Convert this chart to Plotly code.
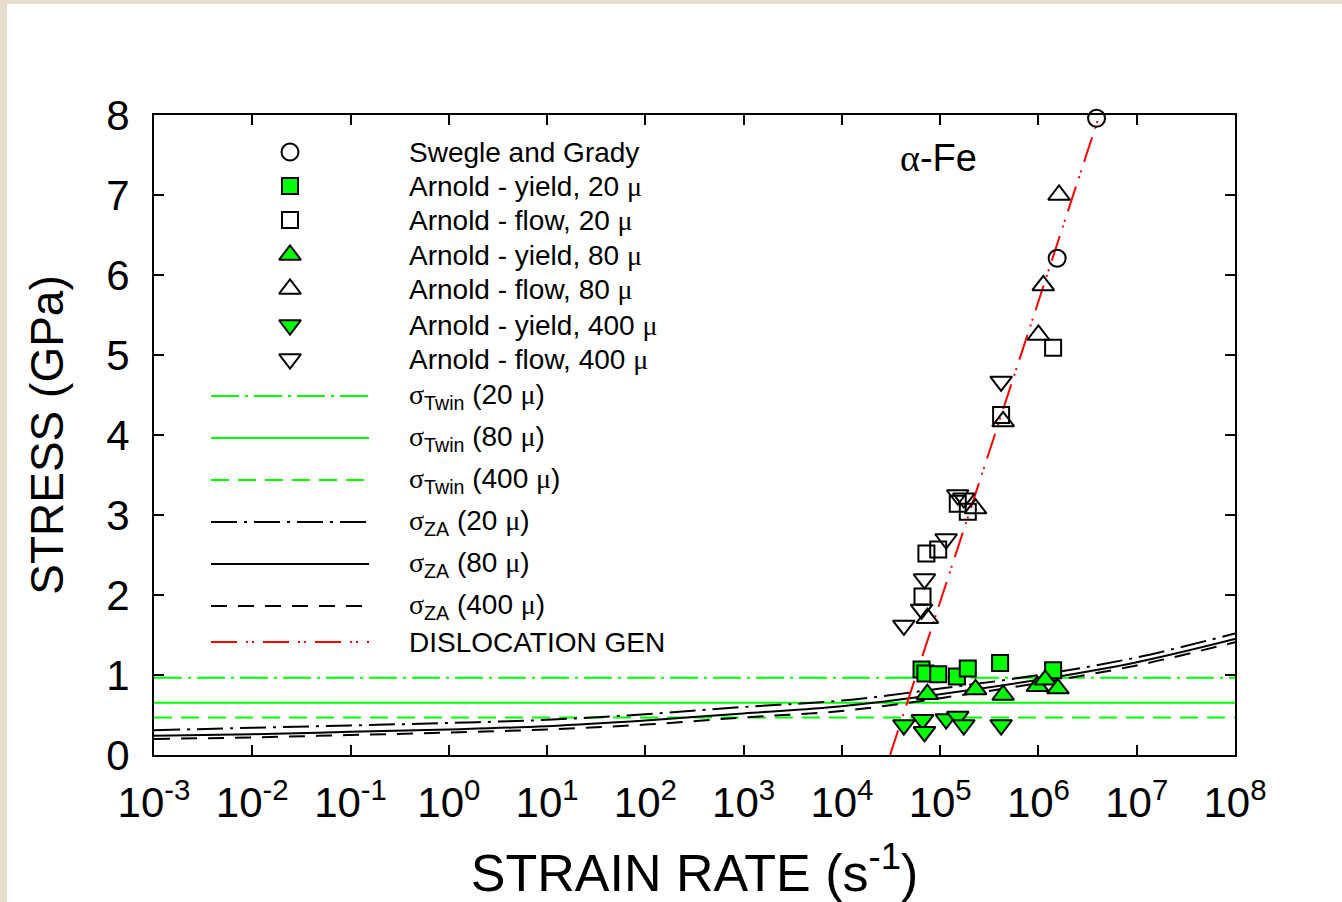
import plotly.graph_objects as go

# ---------------- data ----------------
swegle_rate = [1.55e6, 3.9e6]
swegle_stress = [6.21, 7.96]

yield20_rate = [6.46e4, 7.08e4, 9.55e4, 1.48e5, 1.91e5, 4.07e5, 1.41e6]
yield20_stress = [1.07, 1.02, 1.01, 0.98, 1.08, 1.15, 1.06]

flow20_rate = [6.61e4, 7.24e4, 9.55e4, 1.51e5, 1.91e5, 4.17e5, 1.41e6]
flow20_stress = [1.98, 2.52, 2.57, 3.14, 3.04, 4.25, 5.09]

yield80_rate = [7.41e4, 2.29e5, 4.37e5, 9.77e5, 1.17e6, 1.58e6]
yield80_stress = [0.76, 0.82, 0.75, 0.86, 0.94, 0.83]

flow80_rate = [7.41e4, 2.29e5, 4.37e5, 1.0e6, 1.12e6, 1.62e6]
flow80_stress = [1.71, 3.08, 4.17, 5.25, 5.87, 7.0]

yield400_rate = [4.27e4, 6.61e4, 6.92e4, 1.15e5, 1.51e5, 1.74e5, 4.17e5]
yield400_stress = [0.375, 0.44, 0.29, 0.45, 0.48, 0.375, 0.375]

flow400_rate = [4.27e4, 6.46e4, 6.92e4, 1.15e5, 1.51e5, 1.74e5, 4.17e5]
flow400_stress = [1.62, 1.82, 2.20, 2.70, 3.25, 3.21, 4.67]

twin_rate = [1e-3, 1e8]
twin20 = [0.966, 0.966]
twin80 = [0.654, 0.654]
twin400 = [0.47, 0.47]

za_rate = [1e-3, 1e-2, 1e-1, 1e0, 1e1, 1e2, 1e3, 1e4, 1e5, 1e6, 1e7, 1e8]
za20 = [0.31, 0.34, 0.37, 0.40, 0.44, 0.51, 0.60, 0.68, 0.83, 1.00, 1.22, 1.52]
za80 = [0.24, 0.26, 0.29, 0.32, 0.36, 0.43, 0.52, 0.61, 0.76, 0.94, 1.16, 1.45]
za400 = [0.20, 0.22, 0.25, 0.28, 0.32, 0.38, 0.47, 0.55, 0.71, 0.90, 1.12, 1.41]

disloc_rate = [3.09e4, 4.17e6]
disloc_stress = [0.0, 8.0]

tick_vals = [1e-3, 1e-2, 1e-1, 1e0, 1e1, 1e2, 1e3, 1e4, 1e5, 1e6, 1e7, 1e8]
tick_text = ["10<sup>-3</sup>", "10<sup>-2</sup>", "10<sup>-1</sup>", "10<sup>0</sup>",
             "10<sup>1</sup>", "10<sup>2</sup>", "10<sup>3</sup>", "10<sup>4</sup>",
             "10<sup>5</sup>", "10<sup>6</sup>", "10<sup>7</sup>", "10<sup>8</sup>"]

SER = "font-family:'Liberation Serif','Times New Roman',serif"
sig = f"<span style=\"{SER}\">σ</span>"
mu = f"<span style=\"{SER}\">μ</span>"
marker_labels = ["Swegle and Grady",
                 f"Arnold - yield, 20 {mu}", f"Arnold - flow, 20 {mu}",
                 f"Arnold - yield, 80 {mu}", f"Arnold - flow, 80 {mu}",
                 f"Arnold - yield, 400 {mu}", f"Arnold - flow, 400 {mu}"]
line_labels = [f"{sig}<sub>Twin</sub> (20 {mu})", f"{sig}<sub>Twin</sub> (80 {mu})",
               f"{sig}<sub>Twin</sub> (400 {mu})", f"{sig}<sub>ZA</sub> (20 {mu})",
               f"{sig}<sub>ZA</sub> (80 {mu})", f"{sig}<sub>ZA</sub> (400 {mu})",
               "DISLOCATION GEN"]

# ---------------- styles ----------------
GREEN = "#00FF00"
FONT = "Liberation Sans, Arial, sans-serif"
DASHDOT = "28px,6px,3px,6px"
DASHDOT_K = "26px,7px,3px,7px"
DASHED_G = "18px,9px"
DASHED_K = "16px,11px"
RED_DASH = "26px,9px,2px,4px,2px,9px"

line_styles = [
    dict(color=GREEN, width=2, dash=DASHDOT),
    dict(color=GREEN, width=2, dash="solid"),
    dict(color=GREEN, width=2, dash=DASHED_G),
    dict(color="black", width=2, dash=DASHDOT_K),
    dict(color="black", width=2, dash="solid"),
    dict(color="black", width=2, dash=DASHED_K),
    dict(color="red", width=2, dash=RED_DASH),
]
marker_styles = [
    dict(symbol="circle-open", size=17, color="black", line=dict(width=2, color="black")),
    dict(symbol="square", size=16, color=GREEN, line=dict(width=2, color="black")),
    dict(symbol="square-open", size=16, color="black", line=dict(width=2, color="black")),
    dict(symbol="triangle-up", size=19, color=GREEN, line=dict(width=2, color="black")),
    dict(symbol="triangle-up-open", size=19, color="black", line=dict(width=2, color="black")),
    dict(symbol="triangle-down", size=19, color=GREEN, line=dict(width=2, color="black")),
    dict(symbol="triangle-down-open", size=19, color="black", line=dict(width=2, color="black")),
]

fig = go.Figure()

# lines
line_data = [(twin_rate, twin20), (twin_rate, twin80), (twin_rate, twin400),
             (za_rate, za20), (za_rate, za80), (za_rate, za400),
             (disloc_rate, disloc_stress)]
for (xs, ys), st in zip(line_data, line_styles):
    fig.add_trace(go.Scatter(x=xs, y=ys, mode="lines", line=dict(**st, shape="spline"),
                             showlegend=False, hoverinfo="skip"))

# markers
marker_data = [(swegle_rate, swegle_stress), (yield20_rate, yield20_stress),
               (flow20_rate, flow20_stress), (yield80_rate, yield80_stress),
               (flow80_rate, flow80_stress), (yield400_rate, yield400_stress),
               (flow400_rate, flow400_stress)]
for (xs, ys), st in zip(marker_data, marker_styles):
    fig.add_trace(go.Scatter(x=xs, y=ys, mode="markers", marker=st,
                             showlegend=False, cliponaxis=False))

# ---------------- hand-drawn legend on a pixel overlay axis ----------------
L, R, T, B = 154, 107, 115, 147
W, H = 1342, 902
marker_rows = [152, 186, 220, 255, 289, 325, 359]
line_rows = [396, 438, 480, 522, 564, 606, 642]
for yrow, st in zip(marker_rows, marker_styles):
    fig.add_trace(go.Scatter(x=[290], y=[yrow], mode="markers", marker=st,
                             xaxis="x2", yaxis="y2", showlegend=False, hoverinfo="skip"))
for yrow, st in zip(line_rows, line_styles):
    fig.add_trace(go.Scatter(x=[211, 369], y=[yrow, yrow], mode="lines", line=st,
                             xaxis="x2", yaxis="y2", showlegend=False, hoverinfo="skip"))

annotations = []
for yrow, txt in zip(marker_rows + line_rows, marker_labels + line_labels):
    annotations.append(dict(x=407, y=yrow, xref="x2", yref="y2", text=txt, showarrow=False,
                            xanchor="left", yanchor="middle",
                            font=dict(family=FONT, size=28, color="black")))
annotations.append(dict(x=938, y=158, xref="x2", yref="y2",
                        text=f"<span style=\"{SER}\">α</span>-Fe", showarrow=False,
                        xanchor="center", yanchor="middle",
                        font=dict(family=FONT, size=38, color="black")))

# white panel over the beige frame
pw = W - L - R
ph = H - T - B
shapes = [dict(type="rect", xref="paper", yref="paper", layer="below",
               x0=(7 - L) / pw, x1=(W + 20 - L) / pw,
               y0=(H - B - (H + 20)) / ph, y1=(H - B - 4) / ph,
               fillcolor="white", line=dict(width=0))]

axis_common = dict(showline=True, linewidth=2, linecolor="black", mirror="ticks",
                   ticks="inside", ticklen=10, tickwidth=2, tickcolor="black",
                   showgrid=False, zeroline=False, automargin=False,
                   tickfont=dict(family=FONT, size=42, color="black"))

fig.update_layout(
    width=W, height=H,
    margin=dict(l=L, r=R, t=T, b=B, pad=0, autoexpand=False),
    paper_bgcolor="#e6dccb",
    plot_bgcolor="white",
    showlegend=False,
    shapes=shapes,
    annotations=annotations,
    xaxis=dict(type="log", range=[-3, 8], tickvals=tick_vals, ticktext=tick_text,
               ticklabelstandoff=10,
               title=dict(text="STRAIN RATE (s<sup>-1</sup>)", standoff=30,
                          font=dict(family=FONT, size=52, color="black")),
               **axis_common),
    yaxis=dict(range=[0, 8], dtick=1, ticklabelstandoff=14,
               title=dict(text="STRESS (GPa)", standoff=28,
                          font=dict(family=FONT, size=46, color="black")),
               **axis_common),
    xaxis2=dict(range=[L, W - R], overlaying="x", anchor="y2", visible=False, fixedrange=True),
    yaxis2=dict(range=[H - B, T], overlaying="y", anchor="x2", visible=False, fixedrange=True),
)

fig.write_html("out.html")
